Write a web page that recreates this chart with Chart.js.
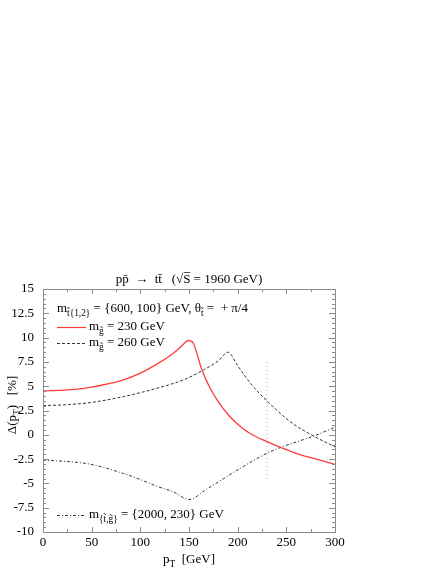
<!DOCTYPE html>
<html>
<head>
<meta charset="utf-8">
<script src="https://cdn.jsdelivr.net/npm/chart.js@4.4.1/dist/chart.umd.min.js"></script>
<style>
  html, body { margin: 0; padding: 0; background: #fff; }
  #wrap { width: 442px; height: 571px; }
</style>
</head>
<body>
<div id="wrap"><canvas id="chart" width="442" height="571"></canvas></div>
<script>
// values
const ptRed = [0, 25, 48.5, 82.7, 100, 117, 134, 140, 145, 149, 152, 154.6, 158, 163, 171.7, 180, 190.5, 204, 215, 230, 244, 260, 278, 300];
const valRed = [4.51, 4.62, 4.89, 5.65, 6.34, 7.27, 8.4, 8.9, 9.4, 9.7, 9.65, 9.4, 8.4, 6.75, 4.79, 3.41, 2.04, 0.75, 0.0, -0.7, -1.3, -1.9, -2.43, -3.05];

const ptDash = [0, 25, 48.5, 82.7, 117, 146, 165, 180, 190, 200, 214.5, 230, 254, 278, 300];
const valDash = [3.0, 3.1, 3.31, 3.93, 4.79, 5.72, 6.68, 7.6, 8.5, 7.1, 5.13, 3.5, 1.35, -0.13, -1.23];

const ptDot = [0, 25, 48.5, 82.7, 100, 117, 134, 150, 168, 202.5, 230, 244, 278, 300];
const valDot = [-2.6, -2.75, -3.02, -3.98, -4.6, -5.3, -5.87, -6.66, -5.6, -3.46, -1.9, -1.3, -0.13, 0.77];

const markX = [230, 230];
const markY = [7.5, -4.85];

const yTicks = [15, 12.5, 10, 7.5, 5, 2.5, 0, -2.5, -5, -7.5, -10];
const xTicks = [0, 50, 100, 150, 200, 250, 300];

const serif = "'Liberation Serif', 'DejaVu Serif', serif";

function pts(xs, ys) {
    return xs.map((x, i) => ({ x: x, y: ys[i] }));
}

// text with subscripts: parts = [[text, sub?], ...]
function richText(ctx, x, y, parts, size) {
    let cx = x;
    for (const p of parts) {
        const sub = p[1];
        ctx.font = (sub ? size * 0.72 : size) + 'px ' + serif;
        ctx.fillText(p[0], cx, sub ? y + size * 0.3 : y);
        cx += ctx.measureText(p[0]).width;
    }
    return cx - x;
}
function richWidth(ctx, parts, size) {
    let w = 0;
    for (const p of parts) {
        ctx.font = (p[1] ? size * 0.72 : size) + 'px ' + serif;
        w += ctx.measureText(p[0]).width;
    }
    return w;
}

const framePlugin = {
    id: 'frame',
    afterDraw(chart) {
        const ctx = chart.ctx;
        const a = chart.chartArea;
        const xs = chart.scales.x, ys = chart.scales.y;
        ctx.save();
        ctx.strokeStyle = '#8a8a8a';
        ctx.lineWidth = 1;
        ctx.strokeRect(Math.round(a.left) + 0.5, Math.round(a.top) + 0.5,
            Math.round(a.right - a.left), Math.round(a.bottom - a.top));
        ctx.beginPath();
        for (let v = 0; v <= 300; v += 25) {
            const px = Math.round(xs.getPixelForValue(v)) + 0.5;
            const len = v % 50 === 0 ? 5 : 3;
            ctx.moveTo(px, a.bottom); ctx.lineTo(px, a.bottom - len);
            ctx.moveTo(px, a.top); ctx.lineTo(px, a.top + len);
        }
        for (let k = -20; k <= 30; k++) {
            const v = k * 0.5;
            const py = Math.round(ys.getPixelForValue(v)) + 0.5;
            const len = k % 5 === 0 ? 6 : 3;
            ctx.moveTo(a.left, py); ctx.lineTo(a.left + len, py);
            ctx.moveTo(a.right, py); ctx.lineTo(a.right - len, py);
        }
        ctx.stroke();

        ctx.fillStyle = '#000';
        ctx.textBaseline = 'alphabetic';
        const fs = 13;
        const mid = (a.left + a.right) / 2;

        // title
        const title = [['pp\u0304  \u2192  tt\u0304   (\u221AS\u0305 = 1960 GeV)', false]];
        richText(ctx, mid - richWidth(ctx, title, fs) / 2, 283, title, fs);

        // x axis title
        const xt = [['p', false], ['T', true], ['  [GeV]', false]];
        richText(ctx, mid - richWidth(ctx, xt, fs) / 2, 563, xt, fs);

        // y axis title
        const yt = [['\u0394(p', false], ['T', true], [')   [%]', false]];
        ctx.save();
        ctx.translate(12, 405);
        ctx.rotate(-Math.PI / 2);
        richText(ctx, -richWidth(ctx, yt, fs) / 2, 4, yt, fs);
        ctx.restore();

        // legend
        richText(ctx, 57, 312, [['m', false], ['t\u0303{1,2}', true],
            [' = {600, 100} GeV, \u03B8', false], ['t\u0303', true], [' =  + \u03C0/4', false]], fs);

        const sample = (y, color, dash, w) => {
            ctx.save();
            ctx.strokeStyle = color;
            ctx.lineWidth = w;
            ctx.setLineDash(dash);
            ctx.beginPath();
            ctx.moveTo(57, y + 0.5); ctx.lineTo(86, y + 0.5);
            ctx.stroke();
            ctx.restore();
        };
        sample(327, '#ff3b3b', [], 1.2);
        richText(ctx, 89, 330, [['m', false], ['g\u0303', true], [' = 230 GeV', false]], fs);
        sample(343, '#333', [3, 2], 1);
        richText(ctx, 89, 346, [['m', false], ['g\u0303', true], [' = 260 GeV', false]], fs);
        sample(515, '#333', [3, 2, 1, 2], 1);
        richText(ctx, 89, 518, [['m', false], ['{t\u0303,g\u0303}', true], [' = {2000, 230} GeV', false]], fs);

        ctx.restore();
    }
};

new Chart(document.getElementById('chart'), {
    type: 'line',
    data: {
        datasets: [
            {
                data: pts(ptRed, valRed),
                borderColor: '#ff3b3b',
                borderWidth: 1.3,
                pointRadius: 0,
                cubicInterpolationMode: 'monotone'
            },
            {
                data: pts(ptDash, valDash),
                borderColor: '#333',
                borderWidth: 1,
                borderDash: [3, 2],
                pointRadius: 0,
                cubicInterpolationMode: 'monotone'
            },
            {
                data: pts(ptDot, valDot),
                borderColor: '#333',
                borderWidth: 1,
                borderDash: [3, 2, 1, 2],
                pointRadius: 0,
                cubicInterpolationMode: 'monotone'
            },
            {
                data: pts(markX, markY),
                borderColor: '#999',
                borderWidth: 1,
                borderDash: [1, 3],
                pointRadius: 0
            }
        ]
    },
    options: {
        responsive: false,
        animation: false,
        events: [],
        layout: { padding: { top: 289, right: 107, left: 0, bottom: 0 } },
        plugins: { legend: { display: false }, title: { display: false }, tooltip: { enabled: false } },
        scales: {
            x: {
                type: 'linear',
                min: 0, max: 300,
                afterFit(s) { s.height = 39; },
                afterBuildTicks(s) { s.ticks = xTicks.map(v => ({ value: v })); },
                grid: { display: false, drawTicks: false },
                border: { display: false },
                ticks: { color: '#000', padding: 3, maxRotation: 0, font: { family: serif, size: 13 } }
            },
            y: {
                min: -10, max: 15,
                afterFit(s) { s.width = 43; },
                afterBuildTicks(s) { s.ticks = yTicks.map(v => ({ value: v })); },
                grid: { display: false, drawTicks: false },
                border: { display: false },
                ticks: { color: '#000', padding: 9, font: { family: serif, size: 13 } }
            }
        }
    },
    plugins: [framePlugin]
});
</script>
</body>
</html>
